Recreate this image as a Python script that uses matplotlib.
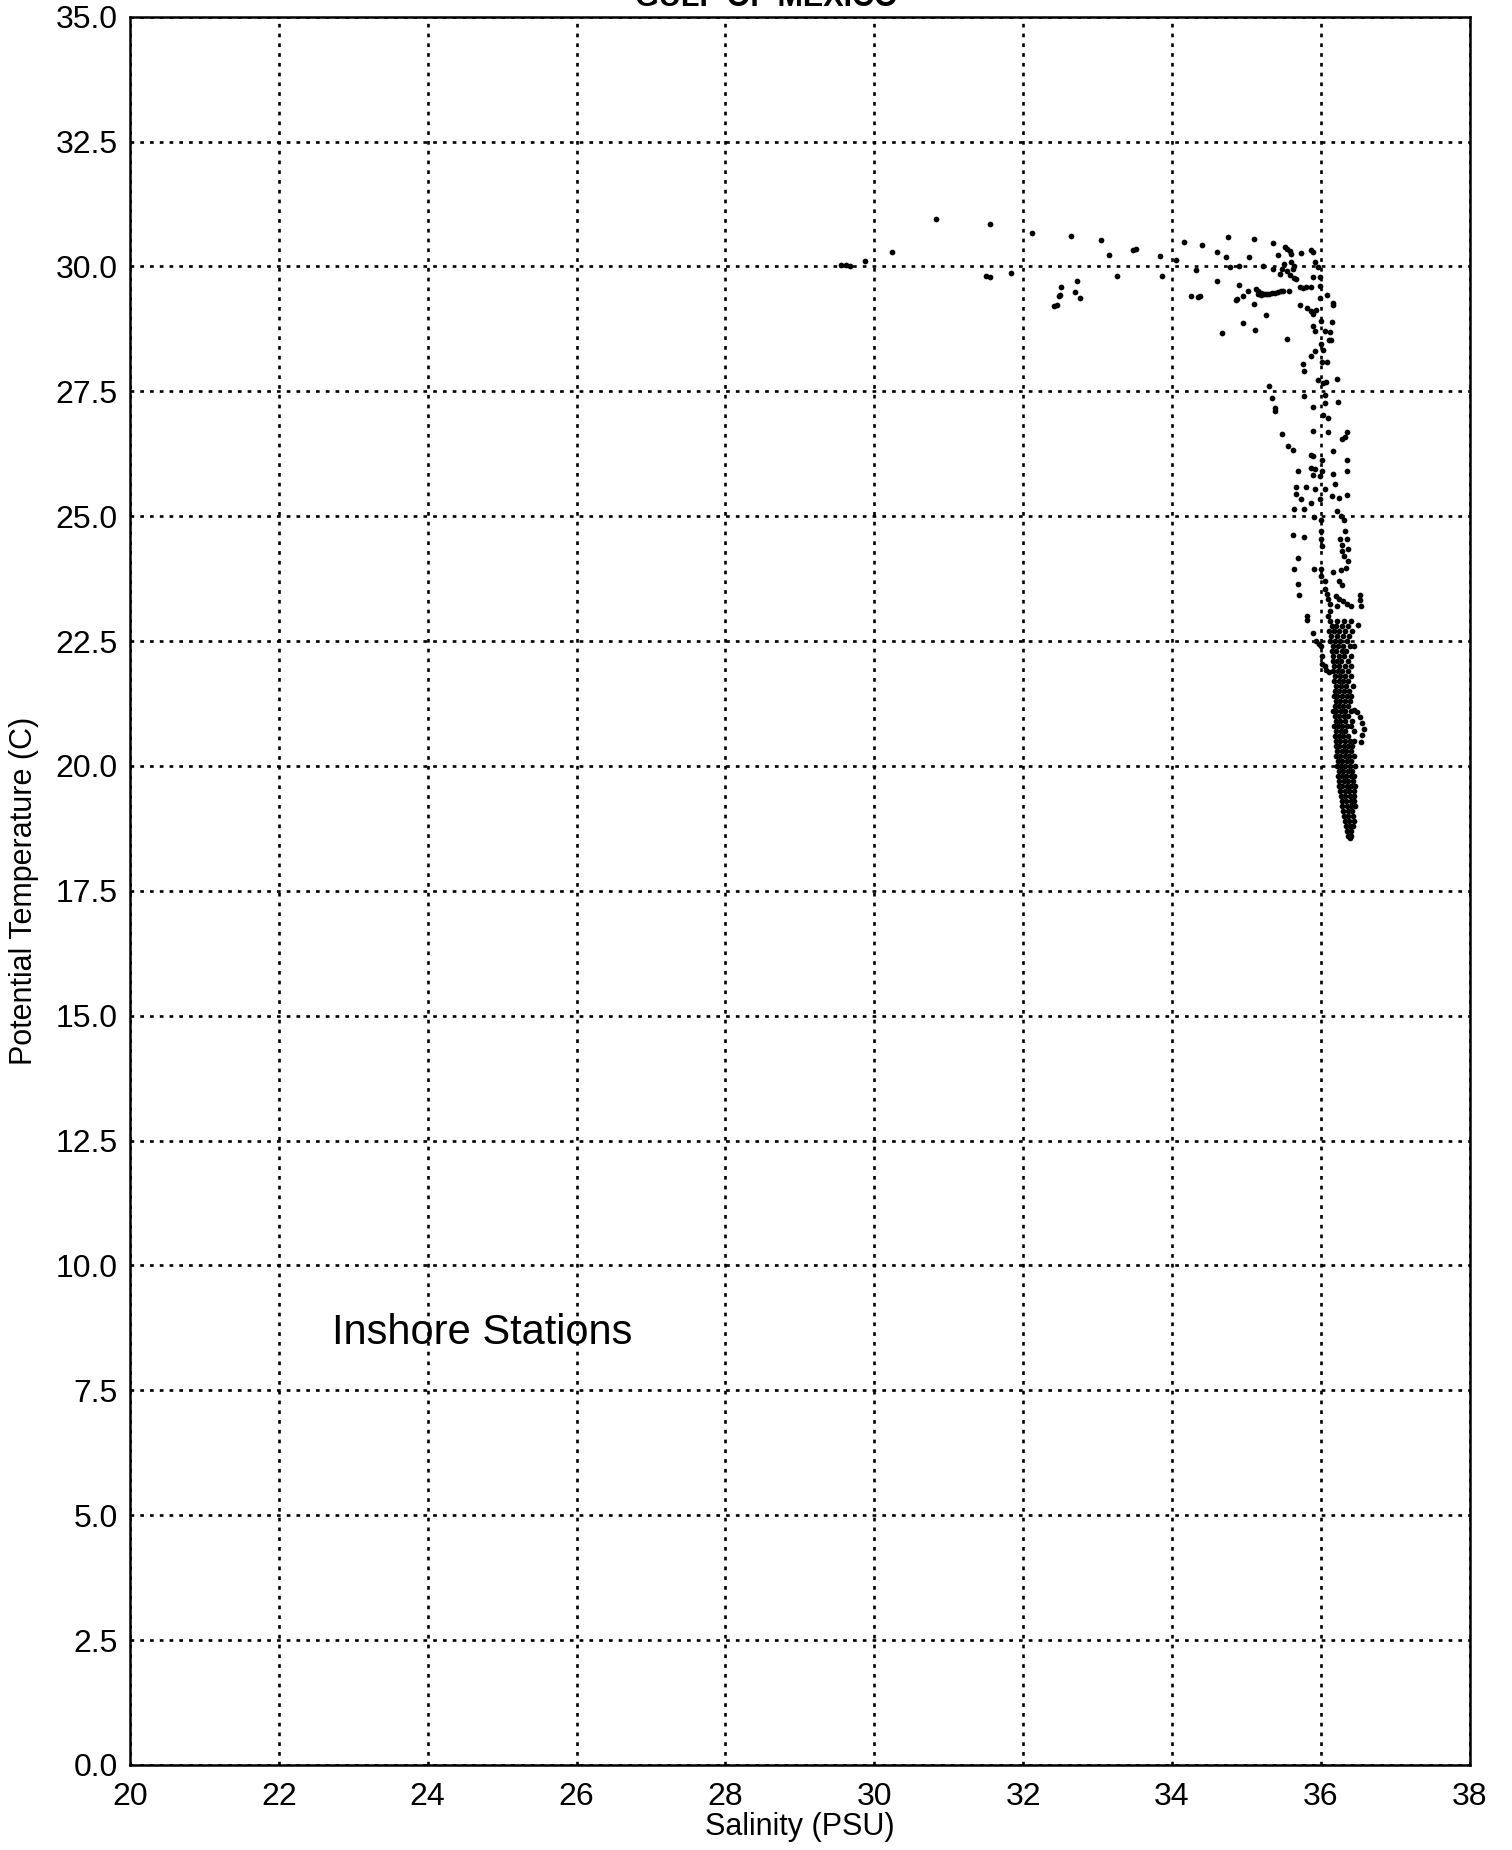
import matplotlib
matplotlib.use("Agg")
import matplotlib.pyplot as plt

plt.rcParams['font.family'] = ['Liberation Sans', 'DejaVu Sans']

# salinity / potential temperature pairs
surface_pts = [
    (29.55, 30.02), (29.62, 30.03), (29.68, 30.01), (29.88, 30.10), (30.24, 30.29),
    (30.83, 30.94), (31.55, 30.85), (31.50, 29.80), (31.56, 29.79), (31.84, 29.86),
    (32.12, 30.67), (32.64, 30.60), (33.05, 30.52), (33.15, 30.23), (33.48, 30.33),
    (33.52, 30.35), (33.26, 29.81), (33.84, 30.21), (33.86, 29.81), (34.05, 30.13),
    (32.51, 29.59), (32.50, 29.42), (32.48, 29.40), (32.45, 29.22), (32.42, 29.20),
    (32.72, 29.71), (32.70, 29.48), (32.77, 29.37),
    (34.16, 30.48), (34.41, 30.42), (34.32, 29.93), (34.25, 29.41), (34.38, 29.40),
    (34.35, 29.38), (34.61, 29.70), (34.60, 30.28), (34.72, 30.18), (34.75, 30.58),
    (34.90, 29.63), (35.03, 30.18), (35.10, 30.55), (34.78, 29.99), (34.90, 30.01),
    (34.86, 29.32), (34.88, 29.34), (34.95, 29.41), (35.02, 29.51),
    (35.13, 29.54), (35.16, 29.50), (35.19, 29.47), (35.22, 29.45), (35.25, 29.45),
    (35.28, 29.44), (35.31, 29.45), (35.34, 29.47), (35.38, 29.46), (35.42, 29.48),
    (35.46, 29.50), (35.49, 29.51), (35.15, 29.45), (35.20, 29.42),
    (35.10, 29.25), (35.26, 29.03), (34.96, 28.86), (35.12, 28.72), (34.67, 28.67),
    (35.54, 28.55),
    (35.36, 30.46), (35.52, 30.38), (35.55, 30.35), (35.58, 30.30), (35.60, 30.24),
    (35.42, 30.22), (35.22, 30.01), (35.36, 29.95), (35.45, 29.85), (35.60, 30.08),
    (35.62, 29.95), (35.64, 30.00), (35.74, 30.26), (35.87, 30.32), (35.90, 30.28),
    (35.92, 30.08), (35.96, 29.98), (35.99, 29.78), (35.99, 29.61), (35.90, 29.78),
    (35.67, 29.74), (35.72, 29.59), (35.76, 29.57), (35.80, 29.58), (35.87, 29.59),
    (35.57, 29.51), (35.99, 29.37), (36.08, 29.43), (36.17, 29.27), (36.16, 29.22),
    (35.50, 30.05), (35.55, 29.90), (35.48, 29.95), (35.59, 29.82), (35.64, 29.77),
]

thermocline_pts = [
    (35.72, 29.23), (35.81, 29.17), (35.87, 29.10), (35.94, 29.12), (35.90, 29.04),
    (36.00, 28.90), (36.15, 28.89), (35.90, 28.80), (35.92, 28.70), (36.06, 28.70),
    (36.12, 28.69), (36.00, 28.45), (36.11, 28.53), (36.14, 28.52), (35.92, 28.30),
    (36.03, 28.32), (35.87, 28.20), (36.01, 28.08), (35.76, 28.04), (35.78, 27.90),
    (36.08, 28.08), (35.96, 27.73), (36.22, 27.75), (36.03, 27.67), (36.07, 27.68),
    (36.05, 27.43), (35.30, 27.60), (35.34, 27.37), (35.38, 27.16), (35.38, 27.10),
    (35.78, 27.40), (35.90, 27.19), (36.05, 27.27), (36.23, 27.28), (36.03, 27.03),
    (36.10, 26.97), (35.89, 26.71), (36.10, 26.68), (36.35, 26.69), (36.28, 26.55),
    (36.32, 26.58), (35.48, 26.65), (35.56, 26.40), (35.62, 26.32), (35.87, 26.22),
    (35.90, 26.20), (36.01, 26.12), (36.17, 26.30), (36.35, 26.12), (35.69, 25.91),
    (35.87, 25.96), (35.92, 25.94), (36.01, 25.90), (35.90, 25.83), (35.99, 25.80),
    (36.17, 25.84), (36.35, 25.90), (35.67, 25.58), (35.80, 25.59), (35.92, 25.55),
    (36.05, 25.55), (36.19, 25.65), (35.67, 25.45), (35.74, 25.35), (35.87, 25.27),
    (35.99, 25.35), (36.15, 25.40), (36.24, 25.37), (36.35, 25.43),
    (35.64, 25.15), (35.78, 25.15), (35.91, 24.99), (36.00, 24.92), (36.22, 25.10),
    (36.27, 25.00), (36.31, 24.92),
    (35.62, 24.63), (35.78, 24.58), (36.00, 24.70), (36.00, 24.55), (36.01, 24.40),
    (36.33, 24.70), (36.35, 24.55), (36.36, 24.35), (36.26, 24.55), (36.28, 24.42),
    (36.29, 24.30),
    (35.69, 24.16), (35.64, 23.95), (35.69, 23.65), (35.71, 23.43), (35.91, 23.95),
    (36.00, 23.95), (36.00, 23.80), (36.05, 23.70), (36.16, 23.88), (36.27, 23.92),
    (36.34, 23.97), (36.36, 24.10), (36.31, 24.20), (36.25, 23.70), (36.28, 23.62),
    (36.05, 23.55), (36.08, 23.45), (36.10, 23.35), (36.12, 23.25), (36.13, 23.10),
    (36.10, 23.00), (36.20, 23.40), (36.25, 23.35), (36.30, 23.30), (36.35, 23.25),
    (36.40, 23.20), (36.22, 23.20),
    (36.52, 23.42), (36.53, 23.32), (36.54, 23.20), (36.50, 22.83),
    (35.81, 23.00), (35.81, 22.92), (35.89, 22.66), (35.93, 22.50), (35.97, 22.45),
    (36.00, 22.40), (36.02, 22.20), (36.02, 22.05), (36.07, 21.92), (36.11, 21.88),
    (36.05, 22.00),
]

# dense core of the cloud, one row of salinities per temperature
core_temp = [22.9, 22.8, 22.7, 22.6, 22.5, 22.4, 22.3, 22.2, 22.1, 22.0,
             21.9, 21.8, 21.7, 21.6, 21.5, 21.4, 21.3, 21.2, 21.1, 21.0,
             20.9, 20.8, 20.7, 20.6, 20.5, 20.4, 20.3, 20.2, 20.1, 20.0,
             19.9, 19.8, 19.7, 19.6, 19.5, 19.4, 19.3, 19.2, 19.1, 19.0,
             18.9, 18.8, 18.7, 18.6, 18.55]
core_sal = [
    [36.12, 36.22, 36.31, 36.40],
    [36.15, 36.20, 36.28, 36.36],
    [36.11, 36.18, 36.25, 36.33, 36.42],
    [36.14, 36.22, 36.30, 36.38],
    [36.12, 36.19, 36.26, 36.35],
    [36.16, 36.23, 36.30, 36.39, 36.44],
    [36.15, 36.21, 36.28, 36.34],
    [36.17, 36.24, 36.31, 36.40],
    [36.16, 36.22, 36.27, 36.36],
    [36.18, 36.25, 36.32, 36.41],
    [36.17, 36.23, 36.29, 36.37],
    [36.19, 36.26, 36.33, 36.40],
    [36.18, 36.24, 36.30, 36.36],
    [36.20, 36.27, 36.34, 36.43],
    [36.19, 36.25, 36.31, 36.38],
    [36.18, 36.22, 36.28, 36.35, 36.41],
    [36.20, 36.26, 36.32, 36.39],
    [36.19, 36.24, 36.30, 36.36],
    [36.16, 36.21, 36.27, 36.33, 36.40],
    [36.19, 36.25, 36.31, 36.37],
    [36.20, 36.26, 36.32, 36.42],
    [36.18, 36.23, 36.29, 36.35, 36.40],
    [36.21, 36.27, 36.33, 36.44],
    [36.19, 36.24, 36.30, 36.37],
    [36.21, 36.26, 36.32, 36.39, 36.45],
    [36.20, 36.25, 36.31, 36.36, 36.42],
    [36.22, 36.28, 36.34, 36.40],
    [36.21, 36.26, 36.32, 36.38, 36.45],
    [36.23, 36.29, 36.35, 36.41],
    [36.22, 36.27, 36.33, 36.39, 36.46],
    [36.24, 36.30, 36.36, 36.42],
    [36.23, 36.28, 36.34, 36.40, 36.45],
    [36.25, 36.31, 36.37, 36.43],
    [36.24, 36.29, 36.35, 36.41, 36.46],
    [36.26, 36.32, 36.38, 36.44],
    [36.27, 36.33, 36.39, 36.45],
    [36.28, 36.34, 36.40, 36.44],
    [36.29, 36.35, 36.41, 36.46],
    [36.30, 36.36, 36.42],
    [36.31, 36.37, 36.43],
    [36.32, 36.38, 36.44],
    [36.34, 36.39, 36.43],
    [36.35, 36.40],
    [36.37, 36.41],
    [36.39],
]

curl_pts = [(36.44, 21.12), (36.49, 21.08), (36.53, 20.98), (36.56, 20.86),
            (36.58, 20.74), (36.56, 20.62), (36.54, 20.48)]

xticks = [20, 22, 24, 26, 28, 30, 32, 34, 36, 38]
yticks = [0.0, 2.5, 5.0, 7.5, 10.0, 12.5, 15.0, 17.5, 20.0, 22.5, 25.0, 27.5, 30.0, 32.5, 35.0]

sal = []
temp = []
for s, t in surface_pts + thermocline_pts + curl_pts:
    sal.append(s)
    temp.append(t)
for t, row in zip(core_temp, core_sal):
    for s in row:
        sal.append(s)
        temp.append(t)

fig = plt.figure(figsize=(15.12, 18.5), dpi=100)
ax = fig.add_axes([0.086, 0.046, 0.886, 0.945])

ax.scatter(sal, temp, s=17, c='black', linewidths=0, zorder=3)

ax.set_xlim(20, 38)
ax.set_ylim(0, 35)
ax.set_xticks(xticks)
ax.set_yticks(yticks)
ax.set_yticklabels(["%.1f" % v for v in yticks])
ax.tick_params(length=0, labelsize=23)
ax.tick_params(axis='x', pad=12)
ax.tick_params(axis='y', pad=9)
ax.grid(True, color='black', linestyle=(0, (1.4, 2.3)), linewidth=1.9)
for sp in ax.spines.values():
    sp.set_linewidth(1.8)

ax.set_xlabel("Salinity (PSU)", fontsize=22, labelpad=0)
ax.set_ylabel("Potential Temperature (C)", fontsize=22, labelpad=12)
ax.text(22.72, 8.65, "Inshore Stations", fontsize=30, va='center', ha='left')

# title is mostly cut off at the top of the scan
fig.text(0.507, 0.9968, "GULF OF MEXICO", fontsize=22, fontweight='bold',
         ha='center', va='baseline')

fig.savefig("out.png", dpi=100)
